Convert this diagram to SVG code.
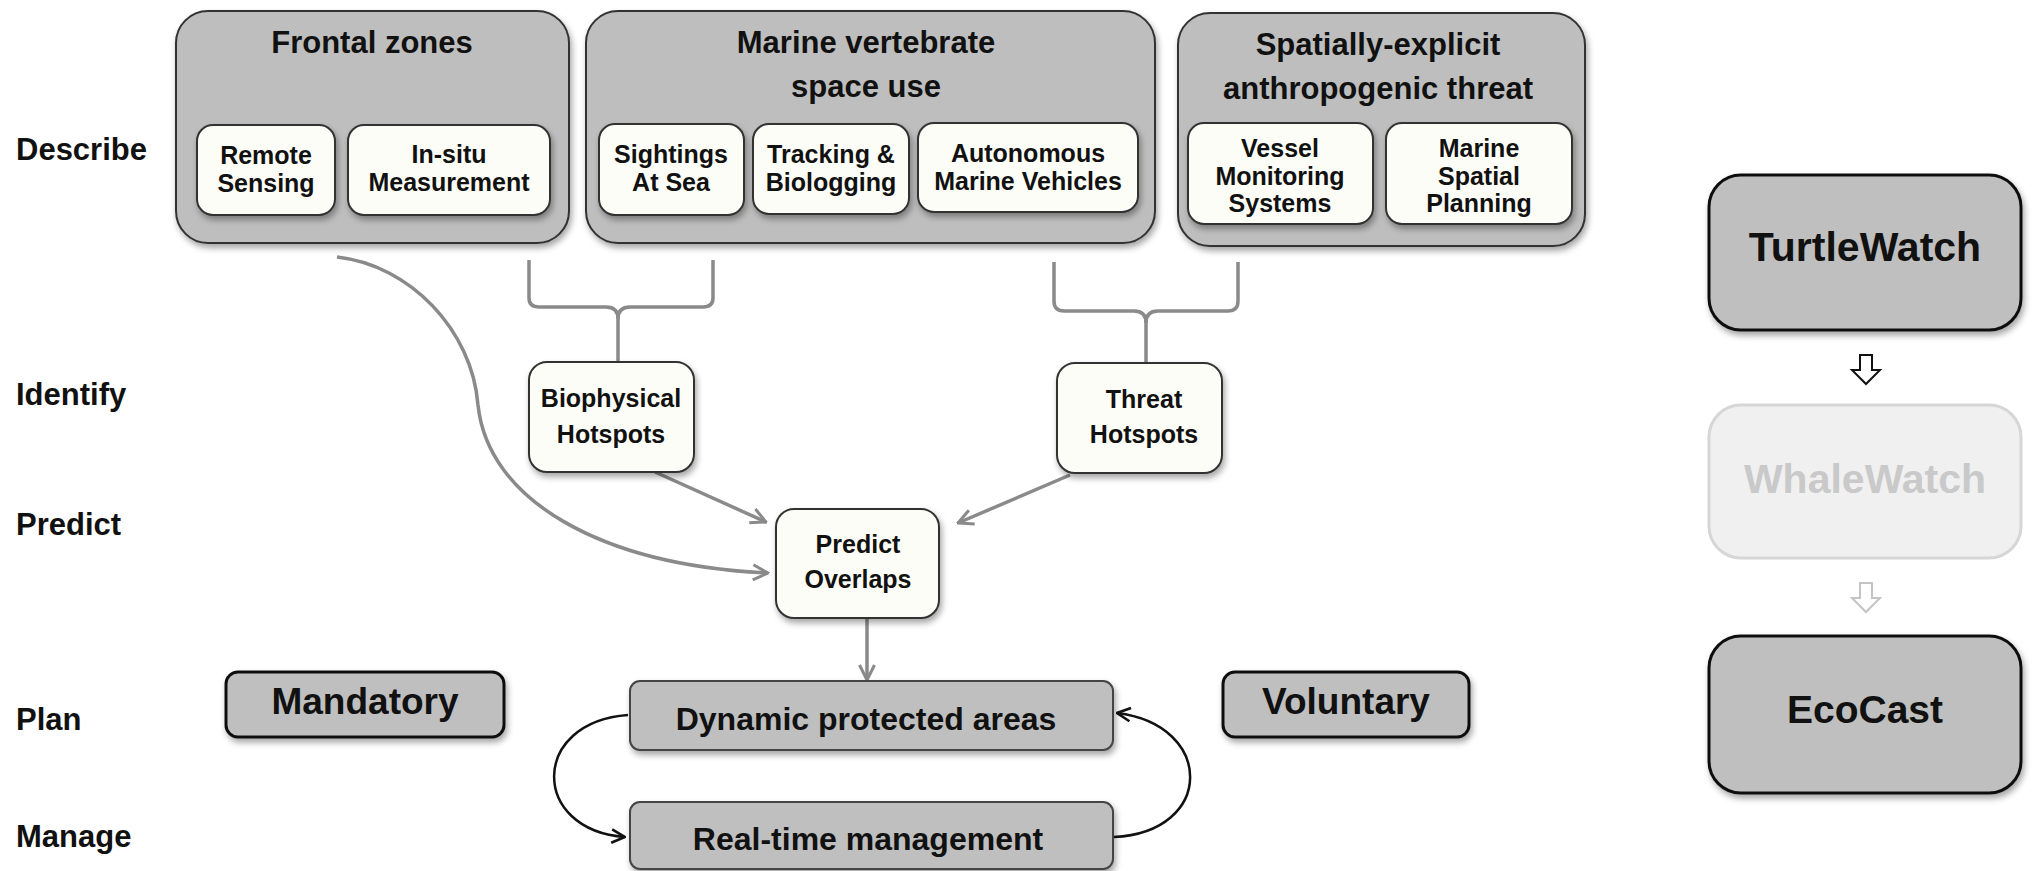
<svg xmlns="http://www.w3.org/2000/svg" width="2038" height="871" viewBox="0 0 2038 871">
<defs>
<filter id="sh" x="-10%" y="-10%" width="125%" height="135%">
<feDropShadow dx="2" dy="4" stdDeviation="3" flood-color="#000" flood-opacity="0.35"/>
</filter>
<marker id="ag" viewBox="0 0 12 12" refX="11" refY="6" markerWidth="18" markerHeight="18" markerUnits="userSpaceOnUse" orient="auto">
<path d="M1,1 L11,6 L1,11" fill="none" stroke="#8a8a8a" stroke-width="2"/>
</marker>
<marker id="ab" viewBox="0 0 12 12" refX="11" refY="6" markerWidth="16" markerHeight="16" markerUnits="userSpaceOnUse" orient="auto">
<path d="M1,1 L11,6 L1,11" fill="none" stroke="#111" stroke-width="2"/>
</marker>
</defs>
<style>
text{font-family:"Liberation Sans",Arial,sans-serif;font-weight:bold;fill:#111;}
.lbl{font-size:31px;}
.ttl{font-size:31px;text-anchor:middle;}
.in{font-size:25px;text-anchor:middle;}
.outer{fill:#bebebe;stroke:#333;stroke-width:2;}
.inner{fill:#fdfdf7;stroke:#333;stroke-width:2;}
.plan{fill:#bfbfbf;stroke:#444;stroke-width:2;}
.mv{fill:#bfbfbf;stroke:#111;stroke-width:3;}
.big{font-size:41px;text-anchor:middle;}
.con{fill:none;stroke:#8a8a8a;stroke-width:3.5;}
.loop{fill:none;stroke:#111;stroke-width:2.5;}
</style>
<rect width="2038" height="871" fill="#ffffff"/>

<g id="stage-labels">
<text class="lbl" x="16" y="160">Describe</text>
<text class="lbl" x="16" y="405">Identify</text>
<text class="lbl" x="16" y="535">Predict</text>
<text class="lbl" x="16" y="730">Plan</text>
<text class="lbl" x="16" y="847">Manage</text>
</g>

<g id="frontal-zones">
<rect class="outer" x="176" y="11" width="393" height="232" rx="32" filter="url(#sh)"/>
<text class="ttl" x="372" y="53">Frontal zones</text>
</g>
<g id="remote-sensing">
<rect class="inner" x="197" y="125" width="138" height="90" rx="16" filter="url(#sh)"/>
<text class="in" x="266" y="164">Remote</text>
<text class="in" x="266" y="192">Sensing</text>
</g>
<g id="in-situ">
<rect class="inner" x="348" y="125" width="202" height="90" rx="16" filter="url(#sh)"/>
<text class="in" x="449" y="163">In-situ</text>
<text class="in" x="449" y="191">Measurement</text>
</g>

<g id="marine-vertebrate">
<rect class="outer" x="586" y="11" width="569" height="232" rx="32" filter="url(#sh)"/>
<text class="ttl" x="866" y="53">Marine vertebrate</text>
<text class="ttl" x="866" y="97">space use</text>
</g>
<g id="sightings">
<rect class="inner" x="599" y="124" width="145" height="91" rx="16" filter="url(#sh)"/>
<text class="in" x="671" y="163">Sightings</text>
<text class="in" x="671" y="191">At Sea</text>
</g>
<g id="tracking">
<rect class="inner" x="753" y="124" width="156" height="90" rx="16" filter="url(#sh)"/>
<text class="in" x="831" y="163">Tracking &amp;</text>
<text class="in" x="831" y="191">Biologging</text>
</g>
<g id="autonomous">
<rect class="inner" x="918" y="123" width="220" height="89" rx="16" filter="url(#sh)"/>
<text class="in" x="1028" y="162">Autonomous</text>
<text class="in" x="1028" y="190">Marine Vehicles</text>
</g>

<g id="anthropogenic-threat">
<rect class="outer" x="1178" y="13" width="407" height="233" rx="32" filter="url(#sh)"/>
<text class="ttl" x="1378" y="55">Spatially-explicit</text>
<text class="ttl" x="1378" y="99">anthropogenic threat</text>
</g>
<g id="vessel">
<rect class="inner" x="1188" y="123" width="185" height="101" rx="16" filter="url(#sh)"/>
<text class="in" x="1280" y="157">Vessel</text>
<text class="in" x="1280" y="185">Monitoring</text>
<text class="in" x="1280" y="212">Systems</text>
</g>
<g id="msp">
<rect class="inner" x="1386" y="123" width="186" height="101" rx="16" filter="url(#sh)"/>
<text class="in" x="1479" y="157">Marine</text>
<text class="in" x="1479" y="185">Spatial</text>
<text class="in" x="1479" y="212">Planning</text>
</g>

<g id="connectors">
<path class="con" d="M529,260 L529,298 Q529,307 539,307 L606,307 Q618,307 618,319 L618,362"/>
<path class="con" d="M713,260 L713,298 Q713,307 703,307 L630,307 Q618,307 618,319"/>
<path class="con" d="M1054,262 L1054,301 Q1054,311 1064,311 L1134,311 Q1146,311 1146,323 L1146,363"/>
<path class="con" d="M1238,262 L1238,301 Q1238,311 1228,311 L1158,311 Q1146,311 1146,323"/>
<path class="con" d="M337,257 C410,265 472,330 478,405 C488,500 600,565 768,573" marker-end="url(#ag)"/>
<path class="con" d="M655,472 L766,522" marker-end="url(#ag)"/>
<path class="con" d="M1070,475 L958,523" marker-end="url(#ag)"/>
<path class="con" d="M867,618 L867,680" marker-end="url(#ag)"/>
<path class="loop" d="M628,715 C530,722 530,830 625,837" marker-end="url(#ab)"/>
<path class="loop" d="M1114,837 C1215,832 1215,725 1117,713" marker-end="url(#ab)"/>
</g>

<g id="biophysical-hotspots">
<rect class="inner" x="529" y="362" width="165" height="110" rx="18" filter="url(#sh)"/>
<text class="in" x="611" y="407">Biophysical</text>
<text class="in" x="611" y="443">Hotspots</text>
</g>
<g id="threat-hotspots">
<rect class="inner" x="1057" y="363" width="165" height="110" rx="18" filter="url(#sh)"/>
<text class="in" x="1144" y="408">Threat</text>
<text class="in" x="1144" y="443">Hotspots</text>
</g>
<g id="predict-overlaps">
<rect class="inner" x="776" y="509" width="163" height="109" rx="18" filter="url(#sh)"/>
<text class="in" x="858" y="553">Predict</text>
<text class="in" x="858" y="588">Overlaps</text>
</g>

<g id="mandatory">
<rect class="mv" x="226" y="672" width="278" height="65" rx="12" filter="url(#sh)"/>
<text x="365" y="714" style="font-size:37px;text-anchor:middle">Mandatory</text>
</g>
<g id="voluntary">
<rect class="mv" x="1223" y="672" width="246" height="65" rx="12" filter="url(#sh)"/>
<text x="1346" y="714" style="font-size:37px;text-anchor:middle">Voluntary</text>
</g>
<g id="dynamic-protected-areas">
<rect class="plan" x="630" y="681" width="483" height="69" rx="10" filter="url(#sh)"/>
<text x="866" y="730" style="font-size:32px;text-anchor:middle">Dynamic protected areas</text>
</g>
<g id="real-time-management">
<rect class="plan" x="630" y="802" width="483" height="67" rx="10" filter="url(#sh)"/>
<text x="868" y="850" style="font-size:32px;text-anchor:middle">Real-time management</text>
</g>

<g id="turtlewatch">
<rect class="mv" x="1709" y="175" width="312" height="155" rx="32" filter="url(#sh)"/>
<text class="big" x="1865" y="261">TurtleWatch</text>
</g>
<g id="whalewatch">
<rect x="1709" y="405" width="312" height="153" rx="32" fill="#f0f0f0" stroke="#d6d6d6" stroke-width="3"/>
<text class="big" x="1865" y="493" style="fill:#c9c9c9">WhaleWatch</text>
</g>
<g id="ecocast">
<rect class="mv" x="1709" y="636" width="312" height="157" rx="32" filter="url(#sh)"/>
<text class="big" x="1865" y="723" style="font-size:39px">EcoCast</text>
</g>
<g id="flow-arrows">
<path d="M1860,355 L1872,355 L1872,370 L1880,370 L1866,384 L1852,370 L1860,370 Z" fill="#fff" stroke="#111" stroke-width="2"/>
<path d="M1860,583 L1872,583 L1872,598 L1880,598 L1866,612 L1852,598 L1860,598 Z" fill="#fff" stroke="#c4c4c4" stroke-width="2"/>
</g>
</svg>
